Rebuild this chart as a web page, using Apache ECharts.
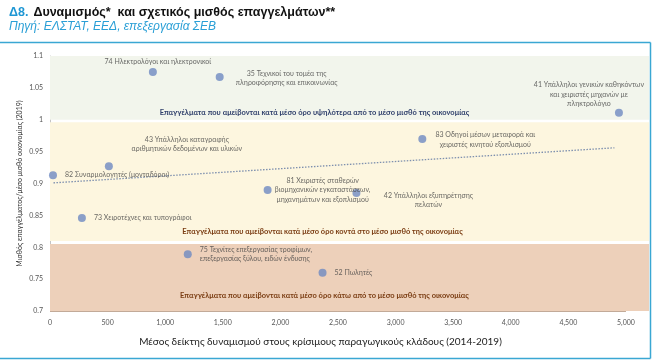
<!DOCTYPE html>
<html>
<head>
<meta charset="utf-8">
<script src="https://cdn.jsdelivr.net/npm/echarts@6/dist/echarts.min.js"></script>
<style>
html,body{margin:0;padding:0;background:#fff;}
#c{width:657px;height:361px;}
</style>
</head>
<body>
<div id="c"></div>
<script>
// ---- Data ----
var occupations = [
  '74 Ηλεκτρολόγοι και ηλεκτρονικοί',
  '35 Τεχνικοί του τομέα της\nπληροφόρησης και επικοινωνίας',
  '41 Υπάλληλοι γενικών καθηκόντων\nκαι χειριστές μηχανών με\nπληκτρολόγιο',
  '83 Οδηγοί μέσων μεταφορά και\nχειριστές κινητού εξοπλισμού',
  '43 Υπάλληλοι καταγραφής\nαριθμητικών δεδομένων και υλικών',
  '82 Συναρμολογητές (μονταδόροι)',
  '81 Χειριστές σταθερών\nβιομηχανικών εγκαταστάσεων,\nμηχανημάτων και εξοπλισμού',
  '42 Υπάλληλοι εξυπηρέτησης\nπελατών',
  '73 Χειροτέχνες και τυπογράφοι',
  '75 Τεχνίτες επεξεργασίας τροφίμων,\nεπεξεργασίας ξύλου, ειδών ένδυσης',
  '52 Πωλητές'
];
var dynamism = [893, 1473, 4939, 3232, 511, 26, 1889, 2660, 277, 1196, 2366];
var relWage  = [1.075, 1.067, 1.011, 0.970, 0.927, 0.913, 0.890, 0.885, 0.846, 0.789, 0.760];
var trendX = [30, 4900];
var trendY = [0.901, 0.956];
var bandBounds = [[1.0, 1.1], [0.81, 0.996], [0.7, 0.805]];
var bandTexts = [
  'Επαγγέλματα που αμείβονται κατά μέσο όρο υψηλότερα από το μέσο μισθό της οικονομίας',
  'Επαγγέλματα που αμείβονται κατά μέσο όρο κοντά στο μέσο μισθό της οικονομίας',
  'Επαγγέλματα που αμείβονται κατά μέσο όρο κάτω από το μέσο μισθό της οικονομίας'
];
var xTicks = {min: 0, max: 5200, interval: 500, lastLabel: 5000};
var yTicks = {min: 0.7, max: 1.1, interval: 0.05};

// ---- Styling / layout (not data) ----
var FONT = 'Lato';
var sym = 8, h = sym / 2;
// label offsets from point centre: [dx, dy, align]
var labelLayout = [
  [5, -10, 'center'],
  [67, 1, 'center'],
  [-30, -18, 'center'],
  [63, 1, 'center'],
  [78, -22, 'center'],
  [12, 0, 'left'],
  [55, 0, 'center'],
  [72, 7, 'center'],
  [12, 0, 'left'],
  [12, 0, 'left'],
  [12, 0, 'left']
];
var bandColors = ['#f2f5ec', '#fdf6df', '#edd0ba'];
var bandTextColors = ['#2f3f6b', '#7a3c12', '#7a3c12'];
var bandTextOffsets = [[-35, 2], [-27, 0], [-25, -6]];

var points = dynamism.map(function (x, i) {
  var l = labelLayout[i];
  return {
    value: [x, relWage[i]],
    name: occupations[i],
    label: {
      show: true,
      formatter: occupations[i],
      position: [h + l[0], h + l[1]],
      align: l[2],
      verticalAlign: 'middle'
    }
  };
});

var markAreas = bandBounds.map(function (b, i) {
  return [
    {
      yAxis: b[1],
      itemStyle: {color: bandColors[i]},
      label: {
        show: true,
        position: 'insideBottom',
        offset: bandTextOffsets[i],
        formatter: bandTexts[i],
        color: bandTextColors[i],
        fontWeight: 'bold',
        fontSize: 7.5,
        fontFamily: FONT
      }
    },
    {yAxis: b[0]}
  ];
});

var chart = echarts.init(document.getElementById('c'), null, {renderer: 'canvas'});
chart.setOption({
  animation: false,
  backgroundColor: '#fff',
  title: {
    left: 4,
    top: -1,
    itemGap: -1,
    text: '{a|Δ8.} {b|Δυναμισμός*  και σχετικός μισθός επαγγελμάτων**}',
    textStyle: {
      rich: {
        a: {color: '#1f97d4', fontWeight: 'bold', fontSize: 12.5, fontFamily: 'Liberation Sans'},
        b: {color: '#111', fontWeight: 'bold', fontSize: 12.5, fontFamily: 'Liberation Sans'}
      }
    },
    subtext: 'Πηγή: ΕΛΣΤΑΤ, ΕΕΔ, επεξεργασία ΣΕΒ',
    subtextStyle: {color: '#2a9fd6', fontStyle: 'italic', fontSize: 12, fontFamily: 'Liberation Sans'}
  },
  grid: {left: 50, right: 8, top: 56, bottom: 50},
  xAxis: {
    type: 'value',
    min: xTicks.min, max: xTicks.max, interval: xTicks.interval,
    name: 'Μέσος δείκτης δυναμισμού στους κρίσιμους παραγωγικούς κλάδους (2014-2019)',
    nameLocation: 'middle',
    nameGap: 26,
    nameMoveOverlap: false,
    nameTextStyle: {fontSize: 10, color: '#222', fontFamily: FONT, padding: [0, 58, 0, 0]},
    axisLine: {show: false},
    axisTick: {show: false},
    splitLine: {show: false},
    axisLabel: {
      fontSize: 7, color: '#555', fontFamily: FONT, margin: 8,
      showMaxLabel: false,
      formatter: function (v) { return v > xTicks.lastLabel ? '' : v.toLocaleString('en-US'); }
    }
  },
  yAxis: {
    type: 'value',
    min: yTicks.min, max: yTicks.max, interval: yTicks.interval,
    name: 'Μισθός επαγγέλματος/μέσο μισθό οικονομίας (2019)',
    nameLocation: 'middle',
    nameGap: 27,
    nameMoveOverlap: false,
    nameTextStyle: {fontSize: 7, color: '#333', fontFamily: FONT},
    axisLine: {show: true, lineStyle: {color: '#c4c4c4', width: 1}},
    axisTick: {show: false},
    splitLine: {show: false},
    axisLabel: {fontSize: 7, color: '#555', fontFamily: FONT, margin: 7}
  },
  series: [
    {
      type: 'scatter',
      z: 1,
      silent: true,
      data: [],
      markArea: {silent: true, data: markAreas},
      markLine: {
        silent: true,
        symbol: 'none',
        label: {show: false},
        lineStyle: {color: '#c2aa98', type: 'solid', width: 1},
        data: [[{coord: [xTicks.min, yTicks.min]}, {coord: [xTicks.lastLabel, yTicks.min]}]]
      }
    },
    {
      type: 'line',
      z: 3,
      symbol: 'none',
      data: trendX.map(function (x, i) { return [x, trendY[i]]; }),
      lineStyle: {color: '#7d8fae', type: [1.5, 1.5], width: 1.3}
    },
    {
      type: 'scatter',
      z: 5,
      symbolSize: sym,
      itemStyle: {color: '#6e89c2'},
      label: {fontSize: 7, color: '#444', fontFamily: FONT, lineHeight: 9.5},
      data: points
    }
  ],
  graphic: [
    {type: 'line', shape: {x1: 0, y1: 42.5, x2: 650.5, y2: 42.5}, style: {stroke: '#3aa7d3', lineWidth: 1.5}},
    {type: 'line', shape: {x1: 650.5, y1: 42.5, x2: 650.5, y2: 358.5}, style: {stroke: '#3aa7d3', lineWidth: 1.5}},
    {type: 'line', shape: {x1: 0, y1: 358.5, x2: 650.5, y2: 358.5}, style: {stroke: '#3aa7d3', lineWidth: 1.5}}
  ]
});
</script>
</body>
</html>
